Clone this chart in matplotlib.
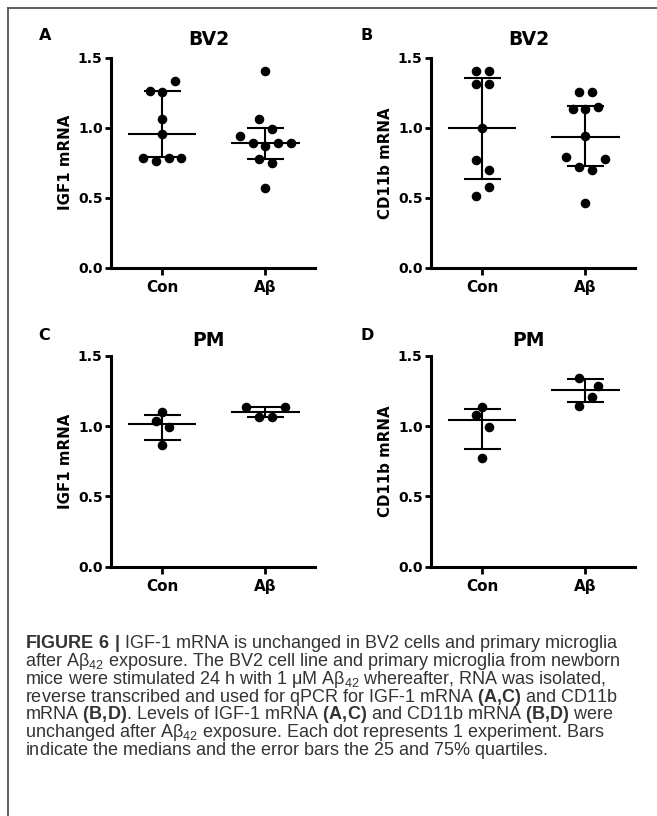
import matplotlib
matplotlib.use("Agg")
import matplotlib.pyplot as plt
from matplotlib.lines import Line2D

# values
groups = ["Con", "Aβ"]
panels = ["A", "B", "C", "D"]
titles = ["BV2", "BV2", "PM", "PM"]
ylabels = ["IGF1 mRNA", "CD11b mRNA", "IGF1 mRNA", "CD11b mRNA"]

a_con = [1.264, 1.257, 1.331, 1.064, 0.952, 0.786, 0.762, 0.786, 0.786]
a_con_slot = [-2, 0, 2, 0, 0, -3, -1, 1, 3]
a_abeta = [1.407, 1.062, 0.993, 0.940, 0.888, 0.869, 0.888, 0.893, 0.774, 0.745, 0.571]
a_abeta_slot = [0, -1, 1, -4, -2, 0, 2, 4, -1, 1, 0]

b_con = [1.407, 1.407, 1.310, 1.310, 0.995, 0.767, 0.698, 0.574, 0.514]
b_con_slot = [-1, 1, -1, 1, 0, -1, 1, 1, -1]
b_abeta = [1.257, 1.257, 1.131, 1.131, 1.150, 0.940, 0.793, 0.774, 0.719, 0.698, 0.464]
b_abeta_slot = [-1, 1, -2, 0, 2, 0, -3, 3, -1, 1, 0]

c_con = [1.097, 1.036, 0.990, 0.865]
c_con_slot = [0, -1, 1, 0]
c_abeta = [1.133, 1.133, 1.062, 1.062]
c_abeta_slot = [-3, 3, -1, 1]

d_con = [1.133, 1.078, 0.995, 0.775]
d_con_slot = [0, -1, 1, 0]
d_abeta = [1.344, 1.287, 1.209, 1.142]
d_abeta_slot = [-1, 2, 1, -1]

# median, 25% and 75% quartiles (Con, Aβ)
medians = [[0.952, 0.888], [0.995, 0.936], [1.012, 1.097], [1.043, 1.258]]
q25 = [[0.793, 0.774], [0.636, 0.726], [0.900, 1.062], [0.834, 1.168]]
q75 = [[1.262, 0.995], [1.355, 1.155], [1.076, 1.133], [1.118, 1.334]]

values = [(a_con, a_abeta), (b_con, b_abeta), (c_con, c_abeta), (d_con, d_abeta)]
slots = [(a_con_slot, a_abeta_slot), (b_con_slot, b_abeta_slot),
         (c_con_slot, c_abeta_slot), (d_con_slot, d_abeta_slot)]

W, H = 657, 816
fig = plt.figure(figsize=(W / 100, H / 100), dpi=100)


def fx(x):
    return x / W


def fy(y):
    return 1 - y / H


# axes boxes in pixels: left, top, right, bottom
boxes = [(110.7, 57.7, 315, 267.7), (430.7, 57.7, 635, 267.7),
         (110.7, 355.7, 315, 566.7), (430.7, 355.7, 635, 566.7)]
letter_xy = [(45, 35), (367, 35), (44, 335), (367, 335)]
title_y = [39.5, 39.5, 340.8, 340.8]

slot_w = 0.0615
for i in range(4):
    l, t, r, b = boxes[i]
    ax = fig.add_axes([fx(l), fy(b), fx(r - l), (b - t) / H])
    for j in range(2):
        xs = [j + 1 + s * slot_w for s in slots[i][j]]
        ax.plot(xs, values[i][j], "o", color="black", markersize=5.9,
                clip_on=False, zorder=3)
        ax.hlines(medians[i][j], j + 1 - 0.33, j + 1 + 0.33, color="black", lw=1.5)
        ax.hlines([q25[i][j], q75[i][j]], j + 1 - 0.18, j + 1 + 0.18, color="black", lw=1.5)
        ax.vlines(j + 1, q25[i][j], q75[i][j], color="black", lw=1.5)

    ax.set_xlim(0.5, 2.48)
    ax.set_ylim(0, 1.5)
    ax.set_xticks([1, 2])
    ax.set_xticklabels(groups, fontsize=11, fontweight="bold")
    ax.set_yticks([0, 0.5, 1.0, 1.5])
    ax.set_yticklabels(["0.0", "0.5", "1.0", "1.5"], fontsize=10, fontweight="bold")
    ax.spines["top"].set_visible(False)
    ax.spines["right"].set_visible(False)
    ax.spines["left"].set_linewidth(2.2)
    ax.spines["bottom"].set_linewidth(2.2)
    ax.tick_params(axis="x", length=4.8, width=2.0, pad=4.4)
    ax.tick_params(axis="y", length=4.5, width=2.0, pad=1.3)
    ax.set_ylabel(ylabels[i], fontsize=10.8, fontweight="bold", va="center")
    ax.yaxis.set_label_coords((65 + (i % 2) * 321 - l) / (r - l), 0.5)

    fig.text(fx(l + (r - l) * 0.48), fy(title_y[i]), titles[i], fontsize=13.5,
             fontweight="bold", ha="center", va="center")
    fig.text(fx(letter_xy[i][0]), fy(letter_xy[i][1]), panels[i], fontsize=11.5,
             fontweight="bold", ha="center", va="center")

# frame lines at top and left
fig.add_artist(Line2D([fx(8), 1], [fy(8), fy(8)], color="#444444", lw=1.2))
fig.add_artist(Line2D([fx(8), fx(8)], [fy(8), 0], color="#444444", lw=1.2))

plt.rcParams["mathtext.fontset"] = "custom"
plt.rcParams["mathtext.rm"] = "Liberation Sans"
plt.rcParams["mathtext.bf"] = "Liberation Sans:bold"

caption = [
    r"$\mathbf{FIGURE\ 6\ |}$ IGF-1 mRNA is unchanged in BV2 cells and primary microglia",
    r"after Aβ$_{42}$ exposure. The BV2 cell line and primary microglia from newborn",
    r"mice were stimulated 24 h with 1 μM Aβ$_{42}$ whereafter, RNA was isolated,",
    r"reverse transcribed and used for qPCR for IGF-1 mRNA $\mathbf{(A,\!C)}$ and CD11b",
    r"mRNA $\mathbf{(B,\!D)}$. Levels of IGF-1 mRNA $\mathbf{(A,\!C)}$ and CD11b mRNA $\mathbf{(B,\!D)}$ were",
    r"unchanged after Aβ$_{42}$ exposure. Each dot represents 1 experiment. Bars",
    r"indicate the medians and the error bars the 25 and 75$\%$ quartiles.",
]
# va="baseline" anchors the last line of a multi-line text
fig.text(fx(25), fy(754.8), "\n".join(caption), fontsize=12.95, family="Liberation Sans",
         color="#333333", ha="left", va="baseline", linespacing=0.783)

fig.savefig("out.png", dpi=100)
